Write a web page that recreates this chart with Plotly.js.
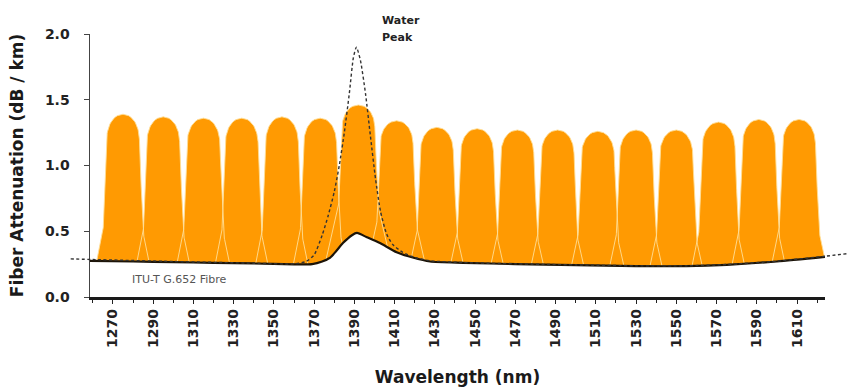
<!DOCTYPE html>
<html>
<head>
<meta charset="utf-8">
<script src="https://cdn.plot.ly/plotly-3.0.1.min.js"></script>
<style>html,body{margin:0;padding:0;background:#fff;}#chart{width:848px;height:387px;}</style>
</head>
<body>
<div id="chart"></div>
<script>
// ---- data ----
const wavelengthTicks = [1270,1290,1310,1330,1350,1370,1390,1410,1430,1450,1470,1490,1510,1530,1550,1570,1590,1610];
const channelCenters = [1275,1295,1315,1334,1354,1373,1392,1411,1431,1451,1471,1491,1511,1530,1550,1571,1591,1611];
const channelPeaks   = [1.39,1.37,1.36,1.36,1.37,1.36,1.46,1.34,1.29,1.28,1.27,1.27,1.26,1.27,1.27,1.33,1.35,1.35];

const fiberWl  = [1258.6,1280,1300,1320,1340,1360,1369,1374,1378,1381,1384.3,1388.8,1391.3,1396,1402.7,1411,1419,1427.6,1444,1470,1500,1530,1555,1575,1600,1623.9];
const fiberAtt = [0.275,0.27,0.265,0.26,0.255,0.248,0.25,0.27,0.30,0.35,0.41,0.47,0.487,0.456,0.41,0.34,0.30,0.27,0.26,0.25,0.242,0.235,0.235,0.245,0.27,0.305];

const waterWl  = [1249,1260,1300,1340,1360,1366,1370,1374,1377,1380,1382.5,1385,1387.5,1389.5,1391,1393,1395.5,1398,1400.5,1403,1406,1409,1414,1420,1428,1444,1470,1500,1530,1555,1575,1600,1624,1635];
const waterAtt = [0.29,0.285,0.27,0.257,0.252,0.27,0.32,0.47,0.62,0.80,1.0,1.25,1.55,1.82,1.90,1.80,1.55,1.22,0.90,0.65,0.48,0.40,0.34,0.30,0.275,0.262,0.252,0.244,0.237,0.237,0.247,0.272,0.31,0.33];

const fiberLabel = 'ITU-T G.652 Fibre';

// ---- helpers ----
function interp(xs, ys, x){
  for (let i=0;i<xs.length-1;i++){
    if (x>=xs[i] && x<=xs[i+1]){
      const t=(x-xs[i])/(xs[i+1]-xs[i]);
      return ys[i]+t*(ys[i+1]-ys[i]);
    }
  }
  return x<xs[0]?ys[0]:ys[ys.length-1];
}
// channel passband outline: half width (nm) at relative height h
function halfWidth(h){
  if (h >= 0.8) return 8.2*Math.pow(Math.max(0,1-Math.pow((h-0.8)/0.2,2.4)),0.5);
  if (h >= 0.2) return 9.9 - 1.7*(h-0.2)/0.6;
  if (h >= 0) return 12.9 - 3.0*h/0.2;
  return 12.9 - 15*h;
}
const hx=[], hy=[];
channelCenters.forEach((c,i)=>{
  const base = interp(fiberWl, fiberAtt, c);
  const H = channelPeaks[i]-base;
  const hb = -base/H;
  const hs=[];
  for (let h=hb; h<0; h+=0.05) hs.push(h);
  for (let h=0; h<=1.0001; h+=0.01) hs.push(Math.min(h,1));
  const lx=[], ly=[];
  hs.forEach(h=>{ lx.push(c-halfWidth(h)); ly.push(base+h*H); });
  const rx=[], ry=[];
  for (let k=hs.length-1;k>=0;k--){ rx.push(c+halfWidth(hs[k])); ry.push(base+hs[k]*H); }
  hx.push(...lx, ...rx, null); hy.push(...ly, ...ry, null);
});

const orange = '#FF9A02';
const font = 'DejaVu Sans, Verdana, sans-serif';

const traces = [
  {x:hx, y:hy, type:'scatter', mode:'lines', fill:'toself', fillcolor:orange, line:{width:0, color:orange}, hoverinfo:'skip', connectgaps:false},
  {x:hx, y:hy, type:'scatter', mode:'lines', line:{width:1, color:'rgba(255,222,150,0.9)'}, hoverinfo:'skip', connectgaps:false},
  {x:fiberWl, y:fiberAtt, type:'scatter', mode:'lines', fill:'tozeroy', fillcolor:'#ffffff', line:{width:2.2, color:'#1c1408', shape:'spline', smoothing:0.6}},
  {x:waterWl, y:waterAtt, xaxis:'x2', yaxis:'y2', type:'scatter', mode:'lines', line:{width:1.4, color:'#333', dash:'3px,2.5px', shape:'spline', smoothing:0.6}}
];

const xmin=1258.6, xmax=1623.9;
const plotL=60, axL=90, axR=825, W=848;
const pxPerNm=(axR-axL)/(xmax-xmin);
const layout = {
  width:848, height:387,
  margin:{l:plotL, r:0, t:34, b:90},
  paper_bgcolor:'#ffffff', plot_bgcolor:'rgba(0,0,0,0)',
  showlegend:false,
  xaxis:{
    domain:[(axL-plotL)/(W-plotL),(axR-plotL)/(W-plotL)],
    range:[xmin,xmax], anchor:'y',
    tickmode:'array', tickvals:wavelengthTicks, ticktext:wavelengthTicks.map(String),
    tickangle:-90, ticks:'outside', ticklen:4, tickcolor:'#222', tickwidth:1,
    minor:{dtick:10, tick0:1260, ticks:'outside', ticklen:3, tickcolor:'#222'},
    showline:true, linecolor:'#1a1a1a', linewidth:2.5,
    showgrid:false, zeroline:false,
    tickfont:{family:font, size:14, color:'#222', weight:'bold'},
    title:{text:'Wavelength (nm)', font:{family:font, size:17, color:'#1a1a1a', weight:'bold'}, standoff:26}
  },
  yaxis:{
    domain:[0,1], range:[0,2], anchor:'x',
    tickmode:'array', tickvals:[0,0.5,1,1.5,2], ticktext:['0.0','0.5','1.0','1.5','2.0'],
    ticks:'outside', ticklen:5, tickcolor:'#444', ticklabelstandoff:11,
    showline:true, linecolor:'#444', linewidth:1.5,
    showgrid:false, zeroline:false,
    tickfont:{family:font, size:14, color:'#222', weight:'bold'},
    title:{text:'Fiber Attenuation (dB / km)', font:{family:font, size:17, color:'#1a1a1a', weight:'bold'}, standoff:17}
  },
  xaxis2:{domain:[0,1], range:[xmin-(axL-plotL)/pxPerNm, xmax+(W-axR)/pxPerNm], anchor:'y2', visible:false},
  yaxis2:{domain:[0,1], range:[0,2], anchor:'x2', visible:false},
  annotations:[
    {x:1402.7, y:2.099/2, xref:'x', yref:'paper', text:'Water', showarrow:false, xanchor:'left', yanchor:'middle', font:{family:font, size:11, color:'#222', weight:'bold'}},
    {x:1402.7, y:1.973/2, xref:'x', yref:'paper', text:'Peak', showarrow:false, xanchor:'left', yanchor:'middle', font:{family:font, size:11, color:'#222', weight:'bold'}},
    {x:1278.4, y:0.13, xref:'x', yref:'y', text:fiberLabel, showarrow:false, xanchor:'left', yanchor:'middle', font:{family:font, size:11, color:'#555'}}
  ]
};
Plotly.newPlot('chart', traces, layout, {staticPlot:true, displayModeBar:false});
</script>
</body>
</html>
